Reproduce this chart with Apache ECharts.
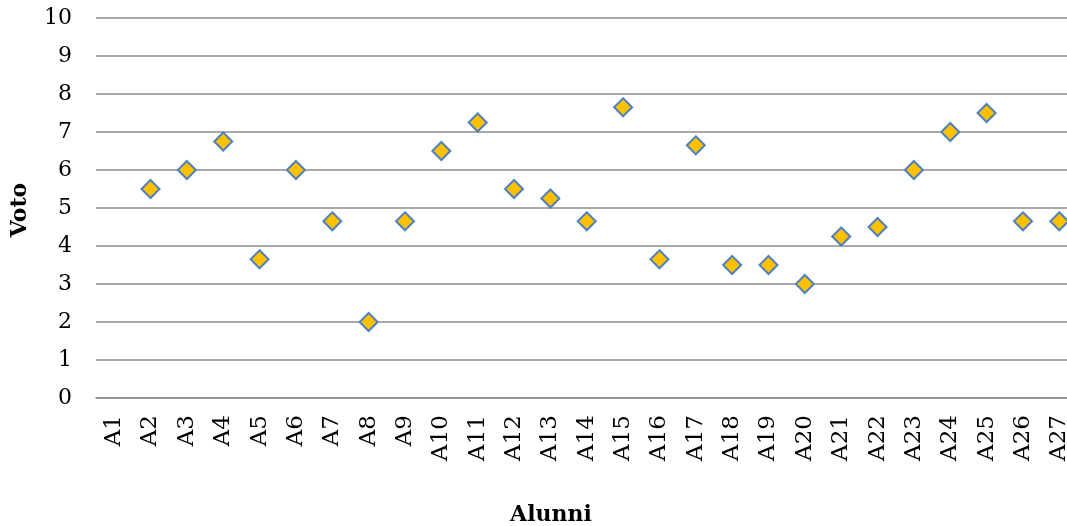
<!DOCTYPE html>
<html><head><meta charset="utf-8">
<script src="https://cdn.jsdelivr.net/npm/echarts@6/dist/echarts.min.js"></script>
<style>html,body{margin:0;padding:0;background:#fff}#c{width:1067px;height:526px}</style>
</head><body><div id="c"></div>
<script>
var categories = ['A1','A2','A3','A4','A5','A6','A7','A8','A9','A10','A11','A12','A13','A14','A15','A16','A17','A18','A19','A20','A21','A22','A23','A24','A25','A26','A27'];
var voto = [null,5.5,6,6.75,3.65,6,4.65,2,4.65,6.5,7.25,5.5,5.25,4.65,7.65,3.65,6.65,3.5,3.5,3,4.25,4.5,6,7,7.5,4.65,4.65];
var yTicks = {min:0,max:10,interval:1};
var FONT = 'DejaVu Serif';
var chart = echarts.init(document.getElementById('c'));
chart.setOption({
  animation:false,
  grid:{left:96, top:18, width:981.5, height:380, containLabel:false, outerBoundsMode:'none'},
  title:[
    {text:'Alunni', left:546, top:499, textAlign:'center', textStyle:{fontFamily:FONT,fontWeight:'bold',fontSize:22,color:'#000'}},
  ],
  graphic:[{type:'text', x:20, y:210, rotation:Math.PI/2, style:{text:'Voto', fontFamily:FONT, fontWeight:'bold', fontSize:22, fill:'#000', textAlign:'center', textVerticalAlign:'middle'}}],
  xAxis:{type:'category', data:categories, boundaryGap:true,
    axisLine:{show:true,lineStyle:{color:'#8c8c8c',width:1.5}}, axisTick:{show:false},
    axisLabel:{rotate:90, margin:17, interval:0, fontFamily:FONT, fontSize:23, color:'#000'}},
  yAxis:{type:'value', min:yTicks.min, max:yTicks.max, interval:yTicks.interval,
    axisLine:{show:false}, axisTick:{show:false},
    splitLine:{lineStyle:{color:'#8c8c8c',width:1.5}},
    axisLabel:{margin:24, fontFamily:FONT, fontSize:22, color:'#000'}},
  series:[{type:'scatter', data:voto, symbol:'diamond', symbolSize:18, clip:false,
    itemStyle:{color:'#FFC000', borderColor:'#4F81BD', borderWidth:2, opacity:1}}]
});
</script></body></html>
